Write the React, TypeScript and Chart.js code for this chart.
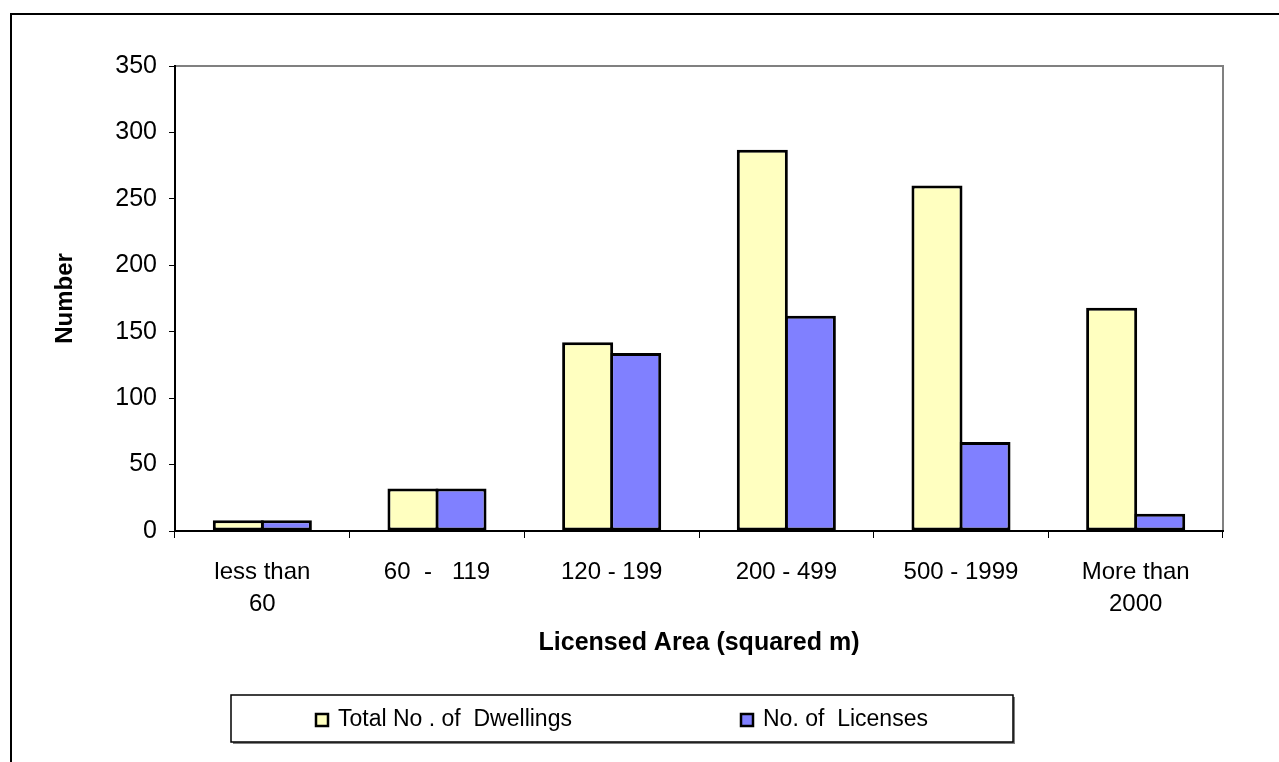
import React, { useEffect, useRef } from "react";
import { Chart, registerables } from "chart.js";

Chart.register(...registerables);

const categories: (string | string[])[] = [
  ["less than", "60"],
  "60  -   119",
  "120 - 199",
  "200 - 499",
  "500 - 1999",
  ["More than", "2000"],
];
const dwellings = [8, 32, 142, 287, 260, 168];
const licenses = [8, 32, 134, 162, 67, 13];
const seriesNames = ["Total No . of  Dwellings", "No. of  Licenses"];
const yTicks = { min: 0, max: 350, step: 50 };

const FONT = "'Liberation Sans', Arial, sans-serif";

const decorPlugin = {
  id: "decor",
  beforeDraw(chart: any) {
    const { ctx, chartArea } = chart;
    ctx.save();
    ctx.fillStyle = "#ffffff";
    ctx.fillRect(0, 0, chart.width, chart.height);
    // outer frame
    ctx.strokeStyle = "#000";
    ctx.lineWidth = 2;
    ctx.beginPath();
    ctx.moveTo(11, chart.height);
    ctx.lineTo(11, 14);
    ctx.lineTo(chart.width, 14);
    ctx.stroke();
    // plot area top/right border
    ctx.strokeStyle = "#808080";
    ctx.lineWidth = 2;
    ctx.beginPath();
    ctx.moveTo(chartArea.left, chartArea.top);
    ctx.lineTo(chartArea.right, chartArea.top);
    ctx.lineTo(chartArea.right, chartArea.bottom);
    ctx.stroke();
    ctx.restore();
  },
  afterDraw(chart: any) {
    const { ctx } = chart;
    ctx.save();
    // legend box
    const lx = 231, ly = 695, lw = 782, lh = 47;
    ctx.fillStyle = "#808080";
    ctx.fillRect(lx + 2, ly + 2, lw, lh);
    ctx.fillStyle = "#fff";
    ctx.fillRect(lx, ly, lw, lh);
    ctx.strokeStyle = "#000";
    ctx.lineWidth = 1.5;
    ctx.strokeRect(lx, ly, lw, lh);
    const items = [
      { sx: 316, tx: 338 },
      { sx: 741, tx: 763 },
    ];
    const cy = 720;
    chart.data.datasets.forEach((ds: any, i: number) => {
      const it = items[i];
      ctx.fillStyle = ds.backgroundColor;
      ctx.fillRect(it.sx, cy - 6, 12, 12);
      ctx.strokeStyle = "#000";
      ctx.lineWidth = 2.5;
      ctx.strokeRect(it.sx, cy - 6, 12, 12);
      ctx.fillStyle = "#000";
      ctx.font = `23px ${FONT}`;
      ctx.textBaseline = "middle";
      ctx.textAlign = "left";
      ctx.fillText(ds.label, it.tx, cy);
    });
    ctx.restore();
  },
};

export default function App() {
  const ref = useRef<HTMLCanvasElement>(null);
  useEffect(() => {
    if (!ref.current) return;
    const chart = new Chart(ref.current, {
      type: "bar",
      data: {
        labels: categories,
        datasets: [
          {
            label: seriesNames[0],
            data: dwellings,
            backgroundColor: "#FFFFC0",
            borderColor: "#000000",
            borderWidth: 3,
            borderSkipped: false,
          },
          {
            label: seriesNames[1],
            data: licenses,
            backgroundColor: "#8080FF",
            borderColor: "#000000",
            borderWidth: 3,
            borderSkipped: false,
          },
        ],
      },
      options: {
        animation: false,
        responsive: false,
        devicePixelRatio: 1,
        layout: { padding: { left: 0, top: 66, right: 56, bottom: 104 } },
        datasets: { bar: { categoryPercentage: 0.55, barPercentage: 1.0625 } },
        plugins: {
          legend: { display: false },
          tooltip: { enabled: false },
          title: { display: false },
        },
        scales: {
          x: {
            grid: {
              offset: true,
              drawOnChartArea: false,
              drawTicks: true,
              tickLength: 7,
              color: "#000",
              lineWidth: 1,
            },
            border: { color: "#000", width: 2 },
            ticks: {
              color: "#000",
              font: { family: FONT, size: 24, lineHeight: 1.33 },
              padding: 18,
              maxRotation: 0,
              autoSkip: false,
            },
            title: {
              display: true,
              text: "Licensed Area (squared m)",
              color: "#000",
              font: { family: FONT, size: 25, weight: "bold" },
              padding: { top: 0, bottom: 0 },
            },
            afterFit: (s: any) => {
              s.height = 127;
            },
          },
          y: {
            min: yTicks.min,
            max: yTicks.max,
            grid: {
              drawOnChartArea: false,
              drawTicks: true,
              tickLength: 6,
              color: "#000",
              lineWidth: 1,
            },
            border: { color: "#000", width: 2 },
            ticks: {
              stepSize: yTicks.step,
              color: "#000",
              font: { family: FONT, size: 25 },
              padding: 12,
            },
            title: {
              display: true,
              text: "Number",
              color: "#000",
              font: { family: FONT, size: 24, weight: "bold" },
              padding: { top: 51, bottom: 0 },
            },
            afterFit: (s: any) => {
              s.width = 175;
            },
          },
        },
      },
      plugins: [decorPlugin],
    });
    return () => chart.destroy();
  }, []);
  return (
    <div style={{ position: "absolute", left: 0, top: 0, width: 1279, height: 762 }}>
      <canvas ref={ref} width={1279} height={762} style={{ display: "block" }} />
    </div>
  );
}
